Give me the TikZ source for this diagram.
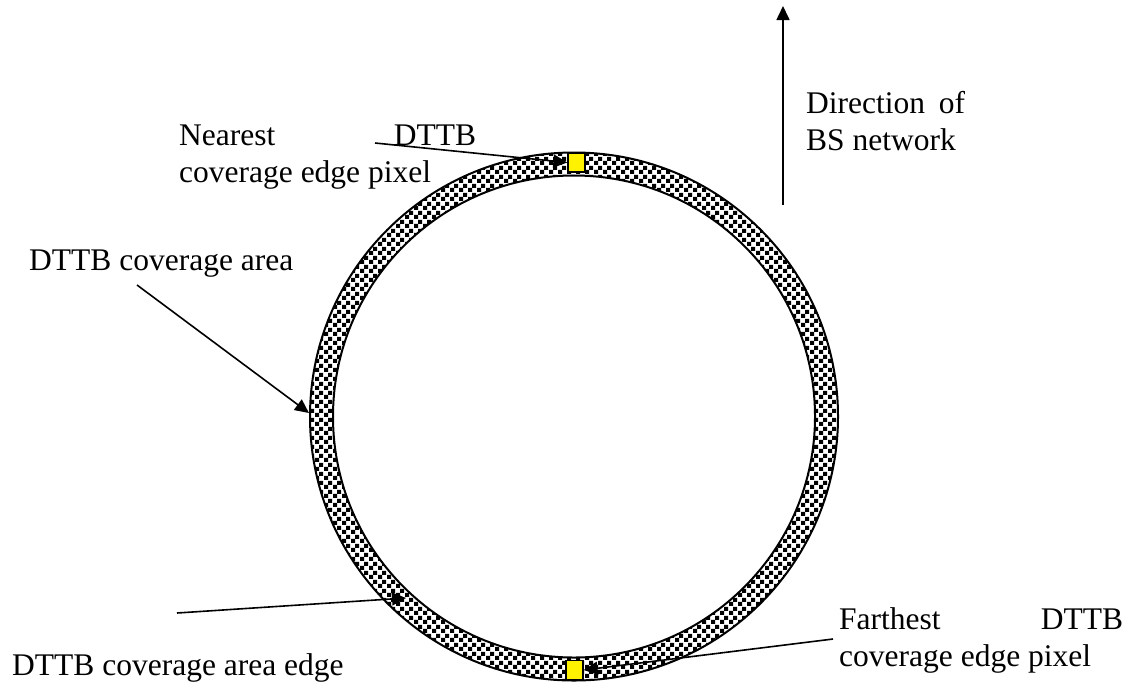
\documentclass[tikz,border=0pt]{standalone}
\usepackage{fontspec}
\setmainfont{Liberation Serif}
\usetikzlibrary{arrows.meta,patterns}
\pgfdeclarepatternformonly{chk}{\pgfpointorigin}{\pgfqpoint{9pt}{9pt}}{\pgfqpoint{9pt}{9pt}}{%
  \pgfpathrectangle{\pgfpointorigin}{\pgfqpoint{4.5pt}{4.5pt}}%
  \pgfpathrectangle{\pgfqpoint{4.5pt}{4.5pt}}{\pgfqpoint{4.5pt}{4.5pt}}%
  \pgfusepath{fill}}
\tikzset{
  lbl/.style={inner sep=0pt, anchor=base west, align=left, font=\fontsize{31.5}{36.5}\selectfont},
  conn/.style={line width=1.6pt, -{Triangle[length=14pt,width=13pt]}},
  pix/.style={draw=black, line width=1.3pt, fill=yellow, inner sep=0pt, minimum width=17pt, minimum height=19pt},
  ringline/.style={line width=2pt}
}
\begin{document}
\begin{tikzpicture}[x=1pt,y=-1pt]
\useasboundingbox (0,0) rectangle (1131,686);
\coordinate (c) at (574,416.5);
% ring
\fill[pattern=chk, even odd rule] (c) circle[radius=264pt] (c) circle[radius=241pt];
\draw[ringline] (c) circle[radius=264pt];
\draw[ringline] (c) circle[radius=241pt];
% pixels
\node[pix] (ptop) at (576.5,162.5) {};
\node[pix] (pbot) at (574.5,670) {};
% labels (base anchor = baseline of the last line)
\node[lbl] (near) at (179,182) {\makebox[297pt][s]{Nearest DTTB}\\coverage edge pixel};
\node[lbl] (dir) at (806,150) {\makebox[159pt][s]{Direction of}\\BS network};
\node[lbl] (area) at (29,270) {DTTB coverage area};
\node[lbl] (edge) at (12,675) {DTTB coverage area edge};
\node[lbl] (far) at (839,666) {\makebox[284pt][s]{Farthest DTTB}\\coverage edge pixel};
% connector endpoints
\coordinate (upS) at (783,205);
\coordinate (upE) at (783,6);
\coordinate (nearS) at (375,143);
\coordinate (areaS) at (137,285);
\coordinate (areaE) at (309,413);
\coordinate (edgeS) at (177,613);
\coordinate (edgeE) at (406,598);
\coordinate (farS) at (833,639);
% connectors
\draw[conn] (upS) -- (upE);
\draw[conn] (nearS) -- (ptop.west);
\draw[conn] (areaS) -- (areaE);
\draw[conn] (edgeS) -- (edgeE);
\draw[conn] (farS) -- (pbot.east);
\end{tikzpicture}
\end{document}
